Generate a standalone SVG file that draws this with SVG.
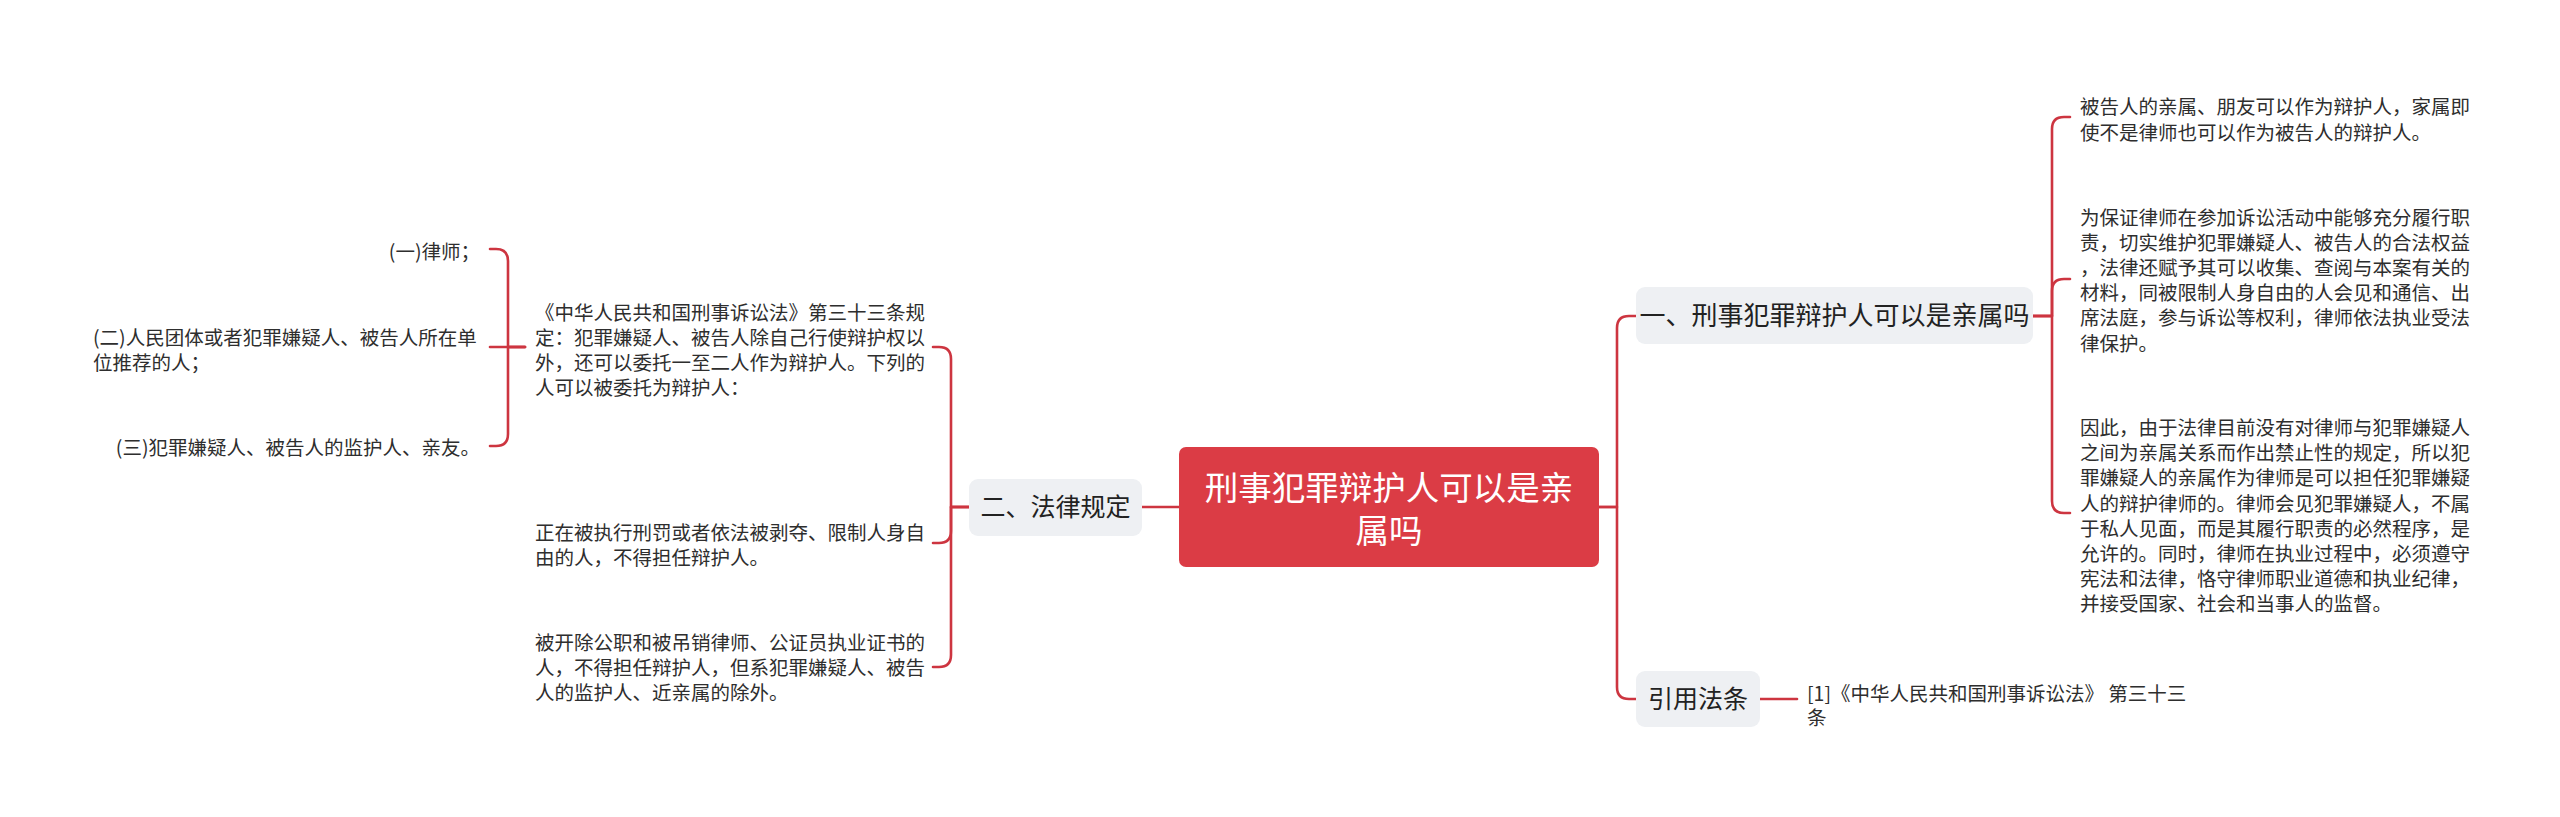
<svg xmlns="http://www.w3.org/2000/svg" width="2560" height="817" viewBox="0 0 2560 817">
<style>
.bg{fill:#ffffff}
.ln{fill:none;stroke:#cd3540;stroke-width:2.6;stroke-linecap:round;stroke-linejoin:round}
.root{fill:#db3c45}
.rt{font-family:"Noto Sans CJK SC","Noto Sans",sans-serif;font-size:33.5px;fill:#ffffff;text-anchor:middle}
.br{fill:#eef0f3}
.bt{font-family:"Noto Sans CJK SC","Noto Sans",sans-serif;fill:#222222;text-anchor:middle}
.lt{font-family:"Noto Sans CJK SC","Noto Sans",sans-serif;font-size:19.5px;fill:#2e2e2e}
.end{text-anchor:end}
</style>
<rect class="bg" x="0" y="0" width="2560" height="817"/>
<g id="connectors">
  <path class="ln" d="M1599,507 H1617 V328 Q1617,316 1629,316 H1636"/>
  <path class="ln" d="M1599,507 H1617 V687 Q1617,699 1629,699 H1636"/>
  <path class="ln" d="M2033,316 H2052 V129 Q2052,117 2064,117 H2070"/>
  <path class="ln" d="M2033,316 H2052 V291 Q2052,279 2064,279 H2070"/>
  <path class="ln" d="M2033,316 H2052 V501 Q2052,513 2064,513 H2070"/>
  <path class="ln" d="M1760,699 H1797"/>
  <path class="ln" d="M1179,507 H1142"/>
  <path class="ln" d="M969,507 H951 V359 Q951,347 939,347 H933"/>
  <path class="ln" d="M969,507 H951 V531 Q951,543 939,543 H933"/>
  <path class="ln" d="M969,507 H951 V655 Q951,667 939,667 H933"/>
  <path class="ln" d="M525,347 H508 V261 Q508,249 496,249 H490"/>
  <path class="ln" d="M525,347 H490"/>
  <path class="ln" d="M525,347 H508 V434 Q508,446 496,446 H490"/>
</g>
<g id="root">
  <rect class="root" x="1179" y="447" width="420" height="120" rx="7"/>
  <text class="rt"><tspan x="1389" y="500">刑事犯罪辩护人可以是亲</tspan><tspan x="1389" y="543">属吗</tspan></text>
</g>
<g id="branch1">
  <rect class="br" x="1636" y="287" width="397" height="57" rx="9"/>
  <text class="bt" x="1834.5" y="325" font-size="26">一、刑事犯罪辩护人可以是亲属吗</text>
</g>
<g id="leaf1">
  <text class="lt" x="2080" y="114">被告人的亲属、朋友可以作为辩护人，家属即</text>
  <text class="lt" x="2080" y="139.5">使不是律师也可以作为被告人的辩护人。</text>
</g>
<g id="leaf2">
  <text class="lt" x="2080" y="224.5">为保证律师在参加诉讼活动中能够充分履行职</text>
  <text class="lt" x="2080" y="249.7">责，切实维护犯罪嫌疑人、被告人的合法权益</text>
  <text class="lt" x="2080" y="274.9">，法律还赋予其可以收集、查阅与本案有关的</text>
  <text class="lt" x="2080" y="300.1">材料，同被限制人身自由的人会见和通信、出</text>
  <text class="lt" x="2080" y="325.3">席法庭，参与诉讼等权利，律师依法执业受法</text>
  <text class="lt" x="2080" y="350.5">律保护。</text>
</g>
<g id="leaf3">
  <text class="lt" x="2080" y="435">因此，由于法律目前没有对律师与犯罪嫌疑人</text>
  <text class="lt" x="2080" y="460.2">之间为亲属关系而作出禁止性的规定，所以犯</text>
  <text class="lt" x="2080" y="485.4">罪嫌疑人的亲属作为律师是可以担任犯罪嫌疑</text>
  <text class="lt" x="2080" y="510.6">人的辩护律师的。律师会见犯罪嫌疑人，不属</text>
  <text class="lt" x="2080" y="535.8">于私人见面，而是其履行职责的必然程序，是</text>
  <text class="lt" x="2080" y="561">允许的。同时，律师在执业过程中，必须遵守</text>
  <text class="lt" x="2080" y="586.2">宪法和法律，恪守律师职业道德和执业纪律，</text>
  <text class="lt" x="2080" y="611.4">并接受国家、社会和当事人的监督。</text>
</g>
<g id="branch-cite">
  <rect class="br" x="1636" y="671" width="124" height="56" rx="9"/>
  <text class="bt" x="1698" y="708" font-size="25">引用法条</text>
</g>
<g id="cite">
  <text class="lt" x="1807" y="701">[1]《中华人民共和国刑事诉讼法》 第三十三</text>
  <text class="lt" x="1807" y="725">条</text>
</g>
<g id="branch2">
  <rect class="br" x="969" y="479" width="173" height="57" rx="9"/>
  <text class="bt" x="1055.5" y="516" font-size="25">二、法律规定</text>
</g>
<g id="law">
  <text class="lt" x="535" y="319.5">《中华人民共和国刑事诉讼法》第三十三条规</text>
  <text class="lt" x="535" y="344.5">定：犯罪嫌疑人、被告人除自己行使辩护权以</text>
  <text class="lt" x="535" y="369.5">外，还可以委托一至二人作为辩护人。下列的</text>
  <text class="lt" x="535" y="394.5">人可以被委托为辩护人：</text>
</g>
<g id="item1">
  <text class="lt end" x="480" y="259">(一)律师；</text>
</g>
<g id="item2">
  <text class="lt" x="93" y="345">(二)人民团体或者犯罪嫌疑人、被告人所在单</text>
  <text class="lt" x="93" y="370">位推荐的人；</text>
</g>
<g id="item3">
  <text class="lt end" x="480" y="455">(三)犯罪嫌疑人、被告人的监护人、亲友。</text>
</g>
<g id="restrict1">
  <text class="lt" x="535" y="540">正在被执行刑罚或者依法被剥夺、限制人身自</text>
  <text class="lt" x="535" y="565">由的人，不得担任辩护人。</text>
</g>
<g id="restrict2">
  <text class="lt" x="535" y="650">被开除公职和被吊销律师、公证员执业证书的</text>
  <text class="lt" x="535" y="675">人，不得担任辩护人，但系犯罪嫌疑人、被告</text>
  <text class="lt" x="535" y="700">人的监护人、近亲属的除外。</text>
</g>
</svg>
